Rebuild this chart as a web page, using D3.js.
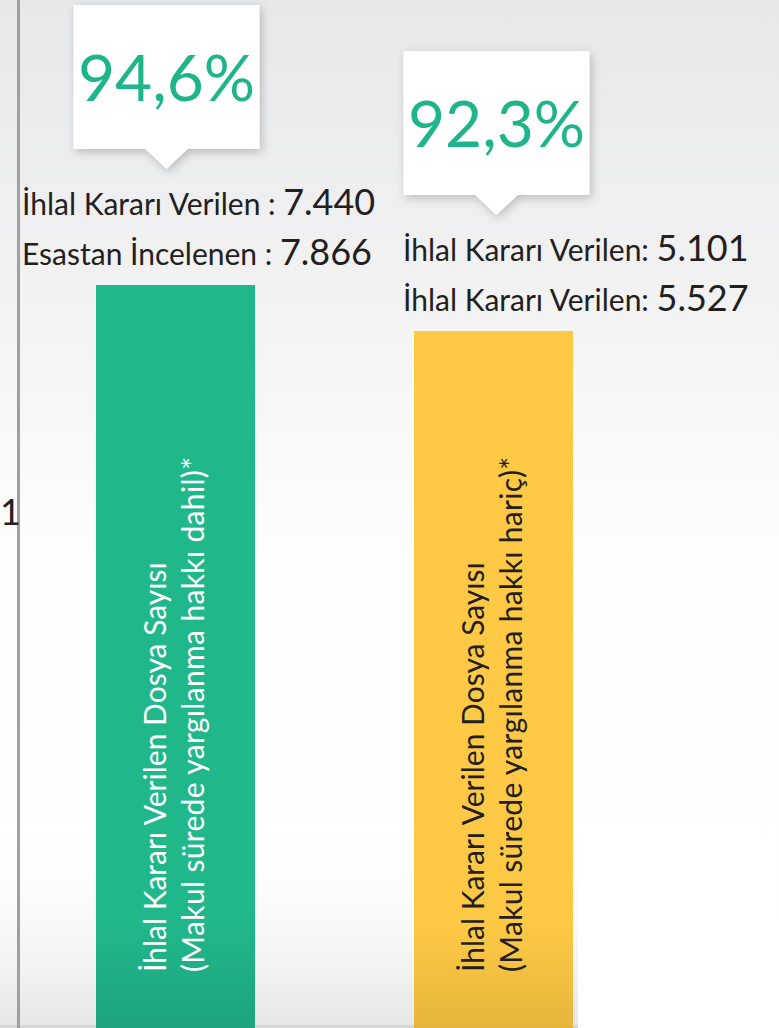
<!DOCTYPE html>
<html>
<head>
<meta charset="utf-8">
<script src="https://cdn.jsdelivr.net/npm/d3@7"></script>
<style>
  html, body { margin: 0; padding: 0; background: #fff; }
  svg { display: block; font-family: Lato, "Open Sans", sans-serif; }
</style>
</head>
<body>
<svg id="chart"></svg>
<script>
/* ── Data ─────────────────────────────────────────────── */
const categories  = ["dahil", "haric"];
const rates       = [94.6, 92.3];
const verilen     = [7440, 5101];
const incelenen   = [7866, 5527];
const row1Labels  = ["İhlal Kararı Verilen", "İhlal Kararı Verilen"];
const row2Labels  = ["Esastan İncelenen", "İhlal Kararı Verilen"];
const separators  = [" : ", ": "];
const barTitles   = ["İhlal Kararı Verilen Dosya Sayısı", "İhlal Kararı Verilen Dosya Sayısı"];
const barSubs     = ["(Makul sürede yargılanma hakkı dahil)*", "(Makul sürede yargılanma hakkı hariç)*"];
const axisLabel   = "1";

/* ── Layout / style ───────────────────────────────────── */
const W = 779, H = 1028;
const barColors  = [["#20b88b", "#1ea47f"], ["#ffc945", "#e6b53c"]];
const barText    = ["#ffffff", "#231f20"];
const calloutDx  = [-9, 3];
const labelX     = [22, 403];
const TEXT_DARK  = "#231f20";
const GREEN_TXT  = "#1fb58a";

const tr = d3.formatLocale({ decimal: ",", thousands: ".", grouping: [3], currency: ["", ""] });
const fmtNum = tr.format(",d");
const fmtPct = v => tr.format(".1f")(v) + "%";

const svg = d3.select("#chart").attr("width", W).attr("height", H);
const defs = svg.append("defs");

// background gradients
const bg = defs.append("linearGradient").attr("id", "bg").attr("x1", 0).attr("y1", 0).attr("x2", 0).attr("y2", 1);
bg.append("stop").attr("offset", 0).attr("stop-color", "#e7e8ea");
bg.append("stop").attr("offset", 0.28).attr("stop-color", "#f2f2f3");
bg.append("stop").attr("offset", 0.55).attr("stop-color", "#fefefe");
bg.append("stop").attr("offset", 1).attr("stop-color", "#ffffff");

const bgLow = defs.append("linearGradient").attr("id", "bgLow").attr("x1", 0).attr("y1", 0).attr("x2", 0).attr("y2", 1);
bgLow.append("stop").attr("offset", 0).attr("stop-color", "#ffffff").attr("stop-opacity", 0);
bgLow.append("stop").attr("offset", 1).attr("stop-color", "#e6e6e6").attr("stop-opacity", 1);

barColors.forEach((c, i) => {
  const g = defs.append("linearGradient").attr("id", "bar" + i).attr("x1", 0).attr("y1", 0).attr("x2", 0).attr("y2", 1);
  g.append("stop").attr("offset", 0).attr("stop-color", c[0]);
  g.append("stop").attr("offset", 0.85).attr("stop-color", c[0]);
  g.append("stop").attr("offset", 1).attr("stop-color", c[1]);
});

const shadow = defs.append("filter").attr("id", "shadow")
  .attr("x", "-20%").attr("y", "-20%").attr("width", "140%").attr("height", "150%");
shadow.append("feDropShadow").attr("dx", 2).attr("dy", 3).attr("stdDeviation", 5)
  .attr("flood-color", "#000").attr("flood-opacity", 0.22);

svg.append("rect").attr("width", W).attr("height", H).attr("fill", "url(#bg)");
svg.append("rect").attr("x", 0).attr("y", 820).attr("width", 578).attr("height", H - 820).attr("fill", "url(#bgLow)");
svg.append("rect").attr("x", 0).attr("y", H - 3).attr("width", 578).attr("height", 3).attr("fill", "#d6d6d6");

/* ── Scales ───────────────────────────────────────────── */
const x = d3.scaleBand().domain(categories).range([96, 573]).paddingInner(0.5).paddingOuter(0);
const y = d3.scaleLinear().domain([0, 100]).range([2177, 177]);

// left axis line + label
svg.append("line").attr("x1", 18.5).attr("x2", 18.5).attr("y1", 0).attr("y2", H)
  .attr("stroke", "#a0a0a0").attr("stroke-width", 3);
svg.append("text").attr("x", 0).attr("y", 525).attr("font-size", 36).attr("fill", TEXT_DARK).text(axisLabel);

/* ── Bars ─────────────────────────────────────────────── */
const bars = svg.append("g");
categories.forEach((c, i) => {
  const bx = x(c), bw = x.bandwidth(), top = y(rates[i]);
  bars.append("rect").attr("x", bx).attr("y", top).attr("width", bw).attr("height", H - top)
    .attr("fill", `url(#bar${i})`);

  const t = bars.append("text")
    .attr("transform", `translate(${bx + 70},972) rotate(-90)`)
    .attr("font-size", 30).attr("fill", barText[i]);
  t.append("tspan").attr("x", 0).attr("y", 0).text(barTitles[i]);
  t.append("tspan").attr("x", 0).attr("y", 38).attr("textLength", 515).attr("lengthAdjust", "spacing").text(barSubs[i]);
});

/* ── Callouts + labels ────────────────────────────────── */
const BOX_W = 186, BOX_H = 144, TRI_W = 21, TRI_H = 20;
categories.forEach((c, i) => {
  const top = y(rates[i]);
  const cx = x(c) + x.bandwidth() / 2 + calloutDx[i];
  const bottom = top - 136;
  const y0 = bottom - BOX_H, xl = cx - BOX_W / 2, xr = cx + BOX_W / 2;

  const path = d3.path();
  path.moveTo(xl, y0);
  path.lineTo(xr, y0);
  path.lineTo(xr, bottom);
  path.lineTo(cx + TRI_W, bottom);
  path.lineTo(cx, bottom + TRI_H);
  path.lineTo(cx - TRI_W, bottom);
  path.lineTo(xl, bottom);
  path.closePath();
  svg.append("path").attr("d", path.toString()).attr("fill", "#fff").attr("filter", "url(#shadow)");

  svg.append("text").attr("x", cx).attr("y", bottom - 48).attr("text-anchor", "middle")
    .attr("font-size", 64).attr("fill", GREEN_TXT).text(fmtPct(rates[i]));

  const rows = [[row1Labels[i], verilen[i], top - 70], [row2Labels[i], incelenen[i], top - 20]];
  rows.forEach(([lab, val, by]) => {
    const t = svg.append("text").attr("x", labelX[i]).attr("y", by).attr("fill", TEXT_DARK);
    t.append("tspan").attr("font-size", 30).text(lab + separators[i]);
    t.append("tspan").attr("font-size", 36).text(fmtNum(val));
  });
});
</script>
</body>
</html>
